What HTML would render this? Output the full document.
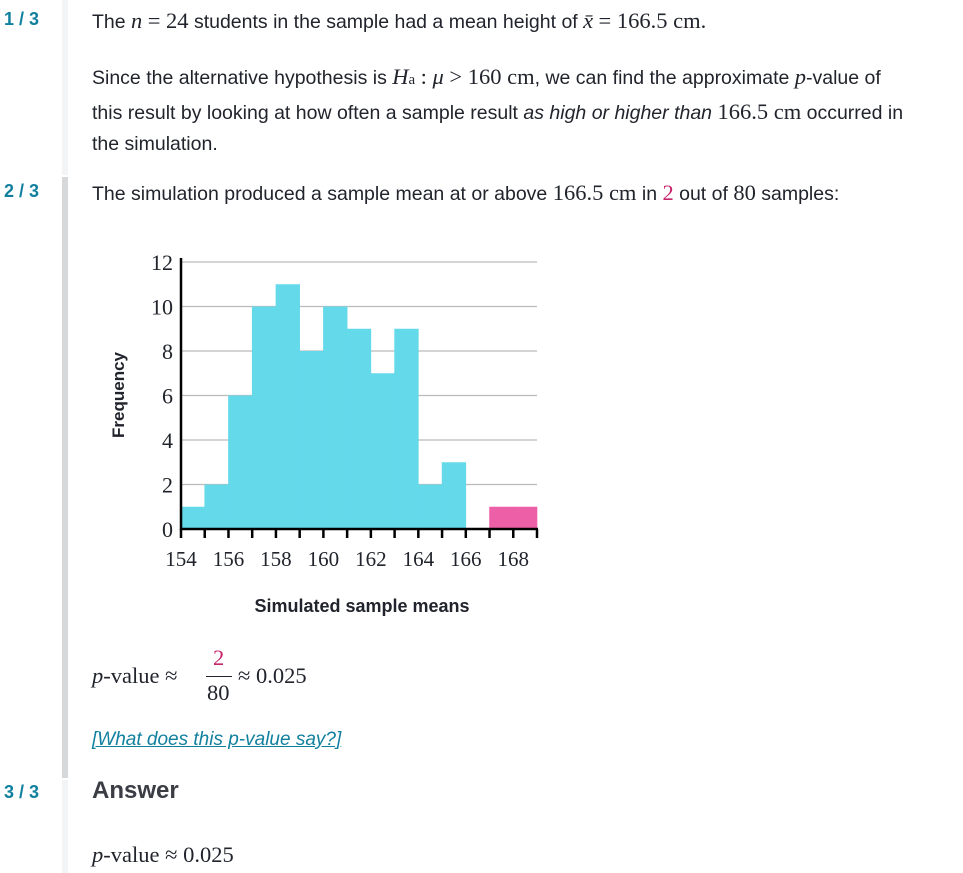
<!DOCTYPE html>
<html><head><meta charset="utf-8"><style>
body{margin:0;width:963px;height:873px;background:#fff;position:relative;overflow:hidden;font-family:"Liberation Sans",sans-serif;color:#21242c}
.ab{position:absolute;white-space:nowrap}
.num{left:4px;font-weight:bold;color:#11809f;font-size:18px}
.t{left:92px;font-size:19.5px;line-height:31px}
.m{font-family:"Liberation Serif",serif;font-size:22.5px}
.i{font-style:italic}
.pk{color:#c6246b}
</style></head><body>
<div class="ab" style="left:62px;top:0;width:6px;height:175px;background:#f3f4f5"></div>
<div class="ab" style="left:62px;top:177px;width:6px;height:601px;background:#d6d8da"></div>
<div class="ab" style="left:62px;top:780px;width:6px;height:93px;background:#f3f4f5"></div>

<div class="ab num" style="top:9px">1 / 3</div>
<div class="ab t" style="top:5px">The <span class="m i">n</span> <span class="m">= 24</span> students in the sample had a mean height of <span class="m i">x̄</span> <span class="m">= 166.5 cm.</span></div>
<div class="ab t" style="top:61px">Since the alternative hypothesis is <span class="m i">H</span><span class="m" style="font-size:15px">a</span> <span class="m">: <i>μ</i> &gt; 160 cm</span>, we can find the approximate <span class="m i">p</span>-value of<br>this result by looking at how often a sample result <span class="i">as high or higher than</span> <span class="m">166.5 cm</span> occurred in<br>the simulation.</div>

<div class="ab num" style="top:181px">2 / 3</div>
<div class="ab t" style="top:177px">The simulation produced a sample mean at or above <span class="m">166.5 cm</span> in <span class="m pk">2</span> out of <span class="m">80</span> samples:</div>

<svg class="ab" style="left:0;top:0" width="963" height="873">
<g id="grid"></g><g id="bars"></g><g id="axes"></g>
<text x="0" y="0" transform="translate(124,395) rotate(-90)" text-anchor="middle" font-family="Liberation Sans" font-weight="bold" font-size="17" fill="#21242c">Frequency</text>
<text x="362" y="612" text-anchor="middle" font-family="Liberation Sans" font-weight="bold" font-size="18" fill="#21242c">Simulated sample means</text>
</svg>

<div class="ab m" style="left:92px;top:663px"><i>p</i>-value ≈</div>
<div class="ab m pk" style="left:213px;top:645px">2</div>
<div class="ab" style="left:206px;top:676px;width:26px;height:1px;background:#21242c"></div>
<div class="ab m" style="left:207px;top:680px">80</div>
<div class="ab m" style="left:238px;top:663px">≈ 0.025</div>
<div class="ab i" style="left:92px;top:729px;font-size:19px;color:#11809f;text-decoration:underline">[What does this p-value say?]</div>

<div class="ab num" style="top:782px">3 / 3</div>
<div class="ab" style="left:92px;top:777px;font-size:24px;font-weight:bold;color:#3b3d45">Answer</div>
<div class="ab m" style="left:92px;top:842px"><i>p</i>-value ≈ 0.025</div>

<script>
const binStarts=[154,155,156,157,158,159,160,161,162,163,164,165,166,167,168];
const counts=[1,2,6,10,11,8,10,9,7,9,2,3,0,1,1];
const highlightFrom=167;
const xTicks=[154,156,158,160,162,164,166,168];
const yTicks=[0,2,4,6,8,10,12];
const NS='http://www.w3.org/2000/svg';
const X0=181,X1=537,Y0=529,Y1=262;
const xs=v=>X0+(v-154)*(X1-X0)/15;
const ys=v=>Y0-v*(Y0-Y1)/12;
function mk(tag,parent,attrs){const e=document.createElementNS(NS,tag);for(const k in attrs)e.setAttribute(k,attrs[k]);document.getElementById(parent).appendChild(e);return e;}
yTicks.forEach(t=>{
 if(t>0){const l=mk('line','grid',{x1:X0,x2:X1,y1:ys(t),y2:ys(t),stroke:'#bbb','stroke-width':1.2});
 
 }
 const tx=mk('text','axes',{x:X0-8,y:ys(t)+8,'text-anchor':'end','font-family':'Liberation Serif','font-size':22,fill:'#21242c'});tx.textContent=t;
 
 
});
binStarts.forEach((b,i)=>{
 if(!counts[i])return;
 const r=mk('rect','bars',{x:xs(b)-0.3,y:ys(counts[i]),width:xs(b+1)-xs(b)+0.6,height:Y0-ys(counts[i]),fill:b>=highlightFrom?'#ed5fa6':'#63d9ea'});
 
 
});
const ax=mk('line','axes',{x1:X0,x2:X0,y1:Y1-4,y2:Y0+1,stroke:'#000','stroke-width':2.5});


const bx=mk('line','axes',{x1:X0-1,x2:X1+1,y1:Y0,y2:Y0,stroke:'#000','stroke-width':2.5});


for(let v=154;v<=169;v++){const t=mk('line','axes',{x1:xs(v),x2:xs(v),y1:Y0,y2:Y0+9,stroke:'#000','stroke-width':2.5});
 
 }
xTicks.forEach(v=>{const tx=mk('text','axes',{x:xs(v),y:Y0+37,'text-anchor':'middle','font-family':'Liberation Serif','font-size':21,fill:'#21242c'});tx.textContent=v;
 
 });
</script>
</body></html>
